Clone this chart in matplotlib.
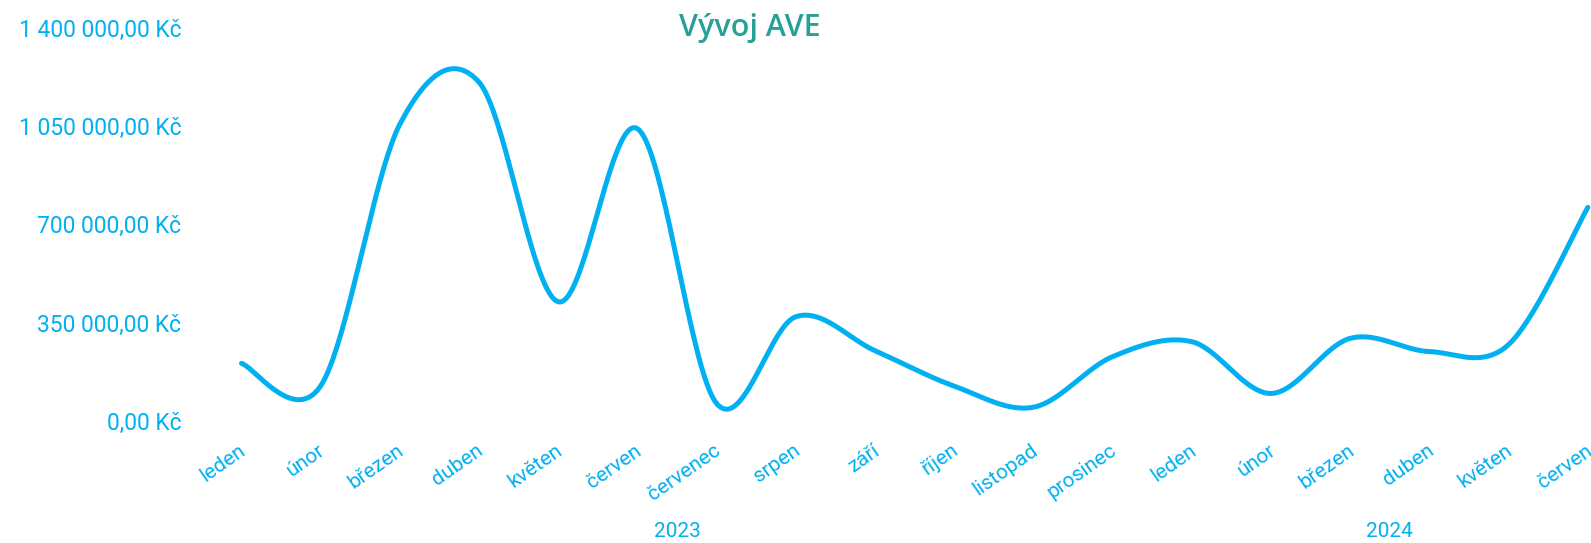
import numpy as np
import matplotlib
matplotlib.use("Agg")
import matplotlib.pyplot as plt
import matplotlib.transforms as mtransforms

# data
months = ["leden", "únor", "březen", "duben", "květen", "červen", "červenec",
          "srpen", "září", "říjen", "listopad", "prosinec",
          "leden", "únor", "březen", "duben", "květen", "červen"]
years = ["2023", "2024"]
year_counts = [12, 6]
ave = [205000, 125000, 1056000, 1205000, 424000, 1040000, 62000, 371000,
       250000, 124000, 49000, 229000, 282000, 98000, 294000, 247000,
       272000, 760000]
yticks = [0, 350000, 700000, 1050000, 1400000]

blue = "#00B0F0"
teal = "#27A096"
font = "Roboto"


def smooth(xs, ys, n=40):
    """catmull-rom style smoothing like excel's smoothed line"""
    xs = np.asarray(xs, float)
    ys = np.asarray(ys, float)
    px, py = [], []
    for i in range(len(xs) - 1):
        i0 = max(i - 1, 0)
        i3 = min(i + 2, len(xs) - 1)
        c1x = xs[i] + (xs[i + 1] - xs[i0]) / 6
        c1y = ys[i] + (ys[i + 1] - ys[i0]) / 6
        c2x = xs[i + 1] - (xs[i3] - xs[i]) / 6
        c2y = ys[i + 1] - (ys[i3] - ys[i]) / 6
        t = np.linspace(0, 1, n)
        a, b, c, d = (1 - t) ** 3, 3 * (1 - t) ** 2 * t, 3 * (1 - t) * t ** 2, t ** 3
        px.extend(a * xs[i] + b * c1x + c * c2x + d * xs[i + 1])
        py.extend(a * ys[i] + b * c1y + c * c2y + d * ys[i + 1])
    return px, py


def kc(v):
    s = f"{v:,.2f}".replace(",", " ").replace(".", ",")
    return s + " Kč"


fig = plt.figure(figsize=(15.91, 5.43), dpi=100)
ax = fig.add_axes([0.1269, 0.2247, 0.896, 0.7247])

x = np.arange(len(months))
sx, sy = smooth(x, ave)
ax.plot(sx, sy, color=blue, lw=3.6, solid_capstyle="round", clip_on=False)

ax.set_xlim(-0.5, len(months) - 0.5)
ax.set_ylim(0, 1400000)
ax.set_yticks(yticks)
ax.set_yticklabels([kc(v) for v in yticks], fontsize=16.5, color=blue,
                   family=font)
ax.set_xticks(x + 0.03)
ax.set_xticklabels(months, fontsize=15, color=blue, family=font,
                   rotation=35, ha="right", va="center",
                   rotation_mode="anchor")
ax.tick_params(axis="y", length=0, pad=15)
ax.tick_params(axis="x", length=0, pad=20)
for s in ax.spines.values():
    s.set_visible(False)

# year labels under the month groups
trans = mtransforms.blended_transform_factory(ax.transData, fig.transFigure)
start = 0
for yr, cnt in zip(years, year_counts):
    mid = start + (cnt - 1) / 2
    ax.text(mid, 0.022, yr, transform=trans, ha="center", va="center",
            fontsize=15, color=blue, family=font)
    start += cnt

fig.text(0.471, 0.948, "Vývoj AVE", ha="center", va="center", fontsize=22,
         color=teal, family="Open Sans", fontweight="semibold")

fig.savefig("out.png", dpi=100)
